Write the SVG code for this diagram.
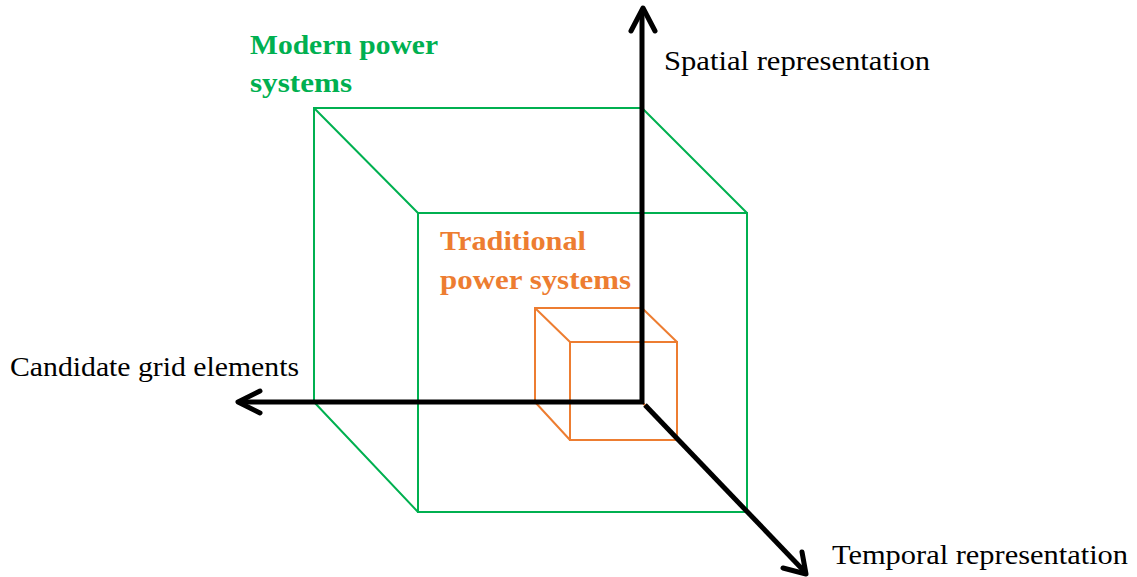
<svg xmlns="http://www.w3.org/2000/svg" width="1137" height="577" viewBox="0 0 1137 577">
<defs>
<style>
.axis{stroke:#000;stroke-width:5;fill:none}
.head{stroke:#000;stroke-width:5;fill:none;stroke-linecap:round;stroke-linejoin:round}
.green{stroke:#00B050;stroke-width:2;fill:none}
.orange{stroke:#ED7D31;stroke-width:2;fill:none}
.lbl{font-family:"Liberation Serif","DejaVu Serif",serif;font-size:27px;fill:#000}
.title{font-family:"Liberation Serif","DejaVu Serif",serif;font-size:28px;font-weight:bold}
</style>
</defs>
<rect width="1137" height="577" fill="#fff"/>
<g id="modern-cube">
<rect class="green" x="314" y="108" width="328" height="294"/>
<rect class="green" x="418" y="213" width="329" height="299"/>
<path class="green" d="M314 108 L418 213 M642 108 L747 213 M314 402 L418 512"/>
<text class="title" x="250" y="54" fill="#00B050" textLength="188" lengthAdjust="spacingAndGlyphs">Modern power</text>
<text class="title" x="250" y="92" fill="#00B050" textLength="102" lengthAdjust="spacingAndGlyphs">systems</text>
</g>
<g id="traditional-cube">
<rect class="orange" x="535" y="308" width="107" height="94"/>
<rect class="orange" x="570" y="342" width="107" height="98"/>
<path class="orange" d="M535 308 L570 342 M642 308 L677 342 M535 402 L570 440 M642 402 L677 440"/>
<text class="title" x="440" y="250" fill="#ED7D31" textLength="146" lengthAdjust="spacingAndGlyphs">Traditional</text>
<text class="title" x="440" y="289" fill="#ED7D31" textLength="191" lengthAdjust="spacingAndGlyphs">power systems</text>
</g>
<g id="connectors">
<line class="axis" x1="642" y1="404" x2="642" y2="10"/>
<polyline class="head" points="631,31 643,8 655,31"/>
<line class="axis" x1="644" y1="402" x2="240" y2="402"/>
<polyline class="head" points="260,391 238,402 260,413"/>
<line class="axis" x1="645" y1="405" x2="804" y2="571"/>
<polyline class="head" points="802,552 806,574 783,568"/>
</g>
<g id="axis-labels">
<text class="lbl" x="664" y="70" textLength="266" lengthAdjust="spacingAndGlyphs">Spatial representation</text>
<text class="lbl" x="10" y="376" textLength="289" lengthAdjust="spacingAndGlyphs">Candidate grid elements</text>
<text class="lbl" x="832" y="564" textLength="296" lengthAdjust="spacingAndGlyphs">Temporal representation</text>
</g>
</svg>
